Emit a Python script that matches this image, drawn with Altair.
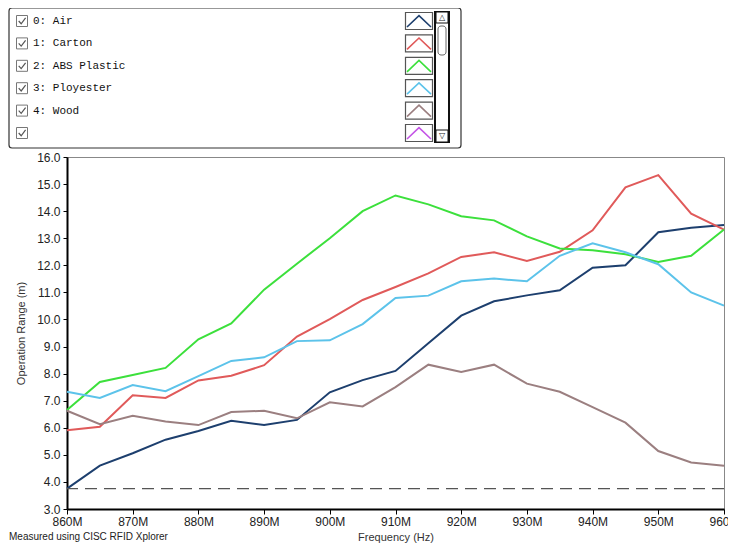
import altair as alt
import pandas as pd

freqs = [860, 865, 870, 875, 880, 885, 890, 895, 900, 905, 910,
         915, 920, 925, 930, 935, 940, 945, 950, 955, 960]

series_names = ["0: Air", "1: Carton", "2: ABS Plastic", "3: Ployester", "4: Wood"]
series_colors = ["#1d3f6e", "#e05a5a", "#3ce03c", "#5cc3ea", "#9b7f80"]

air = [3.75, 4.6, 5.06, 5.56, 5.88, 6.26, 6.1, 6.29, 7.31, 7.76, 8.1,
       9.12, 10.14, 10.67, 10.89, 11.08, 11.91, 12.0, 13.22, 13.39, 13.49]
carton = [5.91, 6.04, 7.2, 7.1, 7.75, 7.92, 8.31, 9.37, 10.01, 10.72, 11.2,
          11.7, 12.31, 12.48, 12.16, 12.5, 13.29, 14.88, 15.33, 13.91, 13.32]
abs_plastic = [6.66, 7.69, 7.95, 8.21, 9.27, 9.85, 11.1, 12.06, 13.0, 14.0, 14.58,
               14.25, 13.81, 13.66, 13.07, 12.62, 12.56, 12.41, 12.12, 12.35, 13.32]
ployester = [7.33, 7.1, 7.58, 7.35, 7.91, 8.47, 8.6, 9.2, 9.23, 9.83, 10.79,
             10.88, 11.41, 11.51, 11.41, 12.35, 12.81, 12.48, 12.04, 11.0, 10.51]
wood = [6.63, 6.13, 6.44, 6.23, 6.1, 6.58, 6.63, 6.35, 6.94, 6.79, 7.5,
        8.33, 8.06, 8.33, 7.63, 7.33, 6.76, 6.19, 5.14, 4.72, 4.6]

baseline_level = 3.75

legend_names = series_names + [""]
legend_colors = series_colors + ["#c455e6"]

y_ticks = list(range(3, 17))
x_ticks = list(range(860, 961, 10))

rows = []
for name, vals in zip(series_names, [air, carton, abs_plastic, ployester, wood]):
    for f, v in zip(freqs, vals):
        rows.append({"freq": f, "value": v, "series": name})
df = pd.DataFrame(rows)

y_scale = alt.Scale(domain=[3, 16], nice=False, zero=False)
y_axis = alt.Axis(values=y_ticks, format=".1f", title="Operation Range (m)",
                  tickSize=4, labelPadding=3, titlePadding=10,
                  labelFontSize=12, titleFontSize=11, labelOverlap=False)

lines = alt.Chart(df).mark_line(strokeWidth=2).encode(
    x=alt.X("freq:Q", scale=alt.Scale(domain=[860, 960], nice=False, zero=False),
            axis=alt.Axis(values=x_ticks, labelExpr="datum.value + 'M'",
                          title="Frequency (Hz)", tickSize=5, labelPadding=2,
                          titlePadding=4, labelFontSize=12, titleFontSize=11,
                          labelFlush=False, labelOverlap=False)),
    y=alt.Y("value:Q", scale=y_scale, axis=y_axis),
    color=alt.Color("series:N", scale=alt.Scale(domain=series_names, range=series_colors),
                    legend=None),
    order=alt.Order("freq:Q"),
)

base_rule = alt.Chart(pd.DataFrame({"value": [baseline_level]})).mark_rule(
    color="#555555", strokeWidth=1.3, strokeDash=[12, 7]
).encode(y=alt.Y("value:Q", scale=y_scale, axis=y_axis))

main = alt.layer(lines, base_rule)

leg_df = pd.DataFrame({"row": list(range(len(legend_names))),
                       "name": legend_names, "hex": legend_colors})
row_y = alt.Y("row:Q", scale=alt.Scale(domain=[0, 5], range=[-136, -24]), axis=None)

one = pd.DataFrame({"a": [0]})
box = alt.Chart(one).mark_rect(fill="white", stroke="#333333", strokeWidth=1.2,
                               cornerRadius=3).encode(
    x=alt.value(-58), x2=alt.value(394), y=alt.value(-149), y2=alt.value(-9))

check_box = alt.Chart(leg_df).mark_point(
    shape="M-1,-1L1,-1L1,1L-1,1Z", size=121, filled=False,
    stroke="#777777", strokeWidth=1, opacity=1).encode(x=alt.value(-45), y=row_y)
check_mark = alt.Chart(leg_df).mark_point(
    shape="M-0.6,0L-0.15,0.5L0.65,-0.55", size=121, filled=False,
    stroke="#555555", strokeWidth=1.2, opacity=1).encode(x=alt.value(-45), y=row_y)

labels = alt.Chart(leg_df).mark_text(font="Liberation Mono", fontSize=11, color="#111111",
                                     align="left", baseline="middle").encode(
    x=alt.value(-34), y=row_y, text="name:N")

icon_box = alt.Chart(leg_df).mark_point(
    shape="M-1,-0.63L1,-0.63L1,0.63L-1,0.63Z", size=729, filled=False,
    stroke="#555555", strokeWidth=1.2, opacity=1).encode(x=alt.value(352), y=row_y)

icons = alt.Chart(leg_df).mark_point(
    shape="M-1,0.5L0,-0.45L1,0.5", size=576, filled=False, strokeWidth=1.6,
    opacity=1).encode(x=alt.value(352), y=row_y,
                      stroke=alt.Stroke("hex:N", scale=None))

scroll = alt.Chart(one).mark_rect(fill="white", stroke="#111111", strokeWidth=2).encode(
    x=alt.value(368), x2=alt.value(382), y=alt.value(-145), y2=alt.value(-15))
scroll_top = alt.Chart(one).mark_rect(fill="white", stroke="#111111", strokeWidth=1).encode(
    x=alt.value(369), x2=alt.value(381), y=alt.value(-145), y2=alt.value(-134))
scroll_bot = alt.Chart(one).mark_rect(fill="white", stroke="#111111", strokeWidth=1).encode(
    x=alt.value(369), x2=alt.value(381), y=alt.value(-27), y2=alt.value(-15))
thumb = alt.Chart(one).mark_rect(fill="white", stroke="#666666", strokeWidth=1,
                                 cornerRadius=3).encode(
    x=alt.value(371), x2=alt.value(379), y=alt.value(-131), y2=alt.value(-102))
arrow_up = alt.Chart(one).mark_text(text="\u25b3", font="DejaVu Sans", fontSize=8,
                                    color="#222", baseline="middle").encode(
    x=alt.value(375), y=alt.value(-139.5))
arrow_dn = alt.Chart(one).mark_text(text="\u25bd", font="DejaVu Sans", fontSize=8,
                                    color="#222", baseline="middle").encode(
    x=alt.value(375), y=alt.value(-21))

note = alt.Chart(one).mark_text(text="Measured using CISC RFID Xplorer",
                                font="Liberation Sans", fontSize=10, color="#222",
                                align="left", baseline="middle").encode(
    x=alt.value(-58), y=alt.value(380))

legend_layer = alt.layer(box, check_box, check_mark, labels, icon_box, icons, scroll,
                         scroll_top, scroll_bot, thumb, arrow_up, arrow_dn)

chart = alt.layer(main, legend_layer, note).resolve_scale(y="independent").properties(
    width=657, height=352,
    autosize=alt.AutoSizeParams(type="none"),
    padding={"left": 59, "top": 149, "right": 4, "bottom": 36},
).configure_view(stroke="#888888", strokeWidth=1).configure_axis(
    labelFont="Liberation Sans", titleFont="Liberation Sans", labelColor="#222222",
    titleColor="#333333", titleFontWeight="normal", domainColor="#000000",
    domainWidth=2, tickColor="#000000", grid=False,
)

chart.save("out.html", embed_options={"renderer": "svg", "actions": False})
